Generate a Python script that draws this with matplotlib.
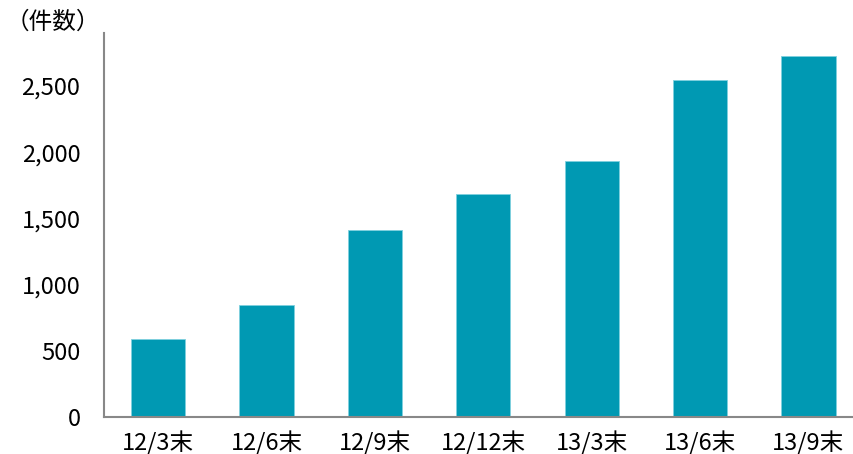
import matplotlib
matplotlib.use('Agg')
import matplotlib.pyplot as plt

plt.rcParams['font.family'] = ['Noto Sans CJK JP', 'DejaVu Sans']

# data
categories = ['12/3末', '12/6末', '12/9末', '12/12末', '13/3末', '13/6末', '13/9末']
counts = [589, 846, 1412, 1686, 1932, 2544, 2728]
yticks = [0, 500, 1000, 1500, 2000, 2500]

W, H = 854, 454
fig = plt.figure(figsize=(W / 100, H / 100), dpi=100)
# axes placed in pixel terms: left 104, bottom baseline at 417, top at 33
ax = fig.add_axes([104 / W, (H - 417) / H, (W - 104) / W, (417 - 33) / H])

x = list(range(len(categories)))
ax.bar(x, counts, width=0.5, color='#0099B3', edgecolor='#7fd0de', linewidth=0.6)

ax.set_xlim(-0.5, 6.42)
ax.set_ylim(0, 2900)
ax.set_yticks(yticks)
ax.set_yticklabels([f'{v:,}' for v in yticks], fontsize=17)
ax.set_xticks(x)
ax.set_xticklabels(categories, fontsize=17)
ax.tick_params(axis='both', length=0, colors='black')
ax.tick_params(axis='y', pad=17)
ax.tick_params(axis='x', pad=10)

for s in ['top', 'right']:
    ax.spines[s].set_visible(False)
for s in ['left', 'bottom']:
    ax.spines[s].set_color('#888888')
    ax.spines[s].set_linewidth(1.5)

fig.text(6 / W, 1 - 22 / H, '（件数）', fontsize=17, va='center', ha='left')

fig.savefig('out.png', dpi=100)
